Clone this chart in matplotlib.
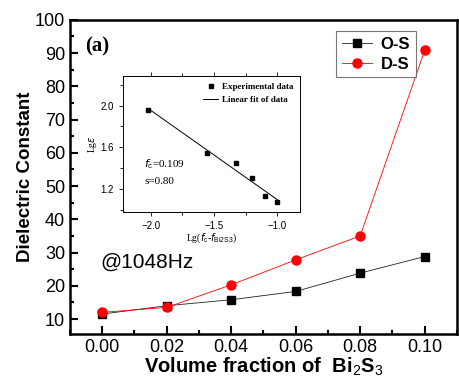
import numpy as np
import matplotlib
matplotlib.use("Agg")
import matplotlib.pyplot as plt
from matplotlib.ticker import MultipleLocator

# volume fraction of Bi2S3 and dielectric constant at 1048 Hz
frac = [0.00, 0.02, 0.04, 0.06, 0.08, 0.10]
eps_os = [11.5, 14.0, 15.8, 18.3, 23.8, 28.8]
eps_ds = [12.0, 13.5, 20.3, 27.8, 35.0, 90.8]

# percolation fit data for the inset
lg_df = [-2.02, -1.56, -1.33, -1.20, -1.10, -1.00]
lg_eps = [1.96, 1.55, 1.45, 1.31, 1.13, 1.08]

plt.rcParams["font.family"] = ["Liberation Sans", "DejaVu Sans"]
plt.rcParams["mathtext.fontset"] = "custom"
plt.rcParams["mathtext.rm"] = "Liberation Sans"
plt.rcParams["mathtext.bf"] = "Liberation Sans:bold"

fig = plt.figure(figsize=(4.59, 3.85), dpi=100)
ax = fig.add_axes([0.1525, 0.1325, 0.843, 0.816])

ax.plot(frac, eps_os, "-", color="#222222", lw=0.6, marker="s", ms=5.5,
        mfc="black", mec="black", label="O-S")
ax.plot(frac, eps_ds, "-", color="red", lw=0.6, marker="o", ms=6.5, label="D-S")

ax.set_xlim(-0.01, 0.11)
ax.set_ylim(5.5, 100)
ax.xaxis.set_major_locator(MultipleLocator(0.02))
ax.xaxis.set_minor_locator(MultipleLocator(0.01))
ax.yaxis.set_major_locator(MultipleLocator(10))
ax.yaxis.set_minor_locator(MultipleLocator(5))
ax.set_yticks(np.arange(10, 101, 10))
ax.xaxis.set_major_formatter(plt.FormatStrFormatter("%.2f"))
ax.tick_params(which="both", direction="in", labelsize=13, width=1.5)
ax.tick_params(which="major", length=6)
ax.tick_params(which="minor", length=3)
for s in ax.spines.values():
    s.set_linewidth(1.8)

ax.set_xlabel("Volume fraction of  Bi$_2$S$_3$", fontsize=14.5, fontweight="bold", labelpad=0)
ax.set_ylabel("Dielectric Constant", fontsize=13.5, fontweight="bold", labelpad=0.5)

leg = ax.legend(loc="upper right", bbox_to_anchor=(0.894, 0.965), borderaxespad=0,
                fancybox=False, edgecolor="#555555", handlelength=1.8,
                borderpad=0.35, labelspacing=0.3, handletextpad=0.5,
                prop={"weight": "bold", "size": 12})
leg.get_frame().set_linewidth(0.8)

ax.text(0.039, 0.915, "(a)", transform=ax.transAxes, fontsize=15, fontweight="bold",
        family="Liberation Serif", va="center")
ax.text(0.078, 0.21, "@1048Hz", transform=ax.transAxes, fontsize=15)

# inset: lg(eps) vs lg(fc - f)
ins = fig.add_axes([0.268, 0.449, 0.386, 0.353])
slope, icpt = np.polyfit(lg_df, lg_eps, 1)
xf = np.array([min(lg_df), max(lg_df)])
ins.plot(lg_df, lg_eps, "s", color="black", ms=2.5, label="Experimental data")
ins.plot(xf, slope * xf + icpt, "-", color="black", lw=0.7, label="Linear fit of data")
ins.set_xlim(-2.22, -0.82)
ins.set_ylim(0.98, 2.28)
ins.xaxis.set_major_locator(MultipleLocator(0.5))
ins.xaxis.set_minor_locator(MultipleLocator(0.25))
ins.yaxis.set_major_locator(MultipleLocator(0.4))
ins.yaxis.set_minor_locator(MultipleLocator(0.2))
ins.set_yticks([1.2, 1.6, 2.0])
ins.tick_params(which="both", direction="out", labelsize=7, width=0.6, top=True)
ins.tick_params(which="major", length=3)
ins.tick_params(which="minor", length=2)
for s in ins.spines.values():
    s.set_linewidth(0.7)
ins.set_xlabel(r"Lg($f_{\rm c}$-$f_{\rm Bi2S3}$)", fontsize=7, family="Liberation Serif", labelpad=0)
ins.set_ylabel(r"Lg$\varepsilon$", fontsize=7, family="Liberation Serif", labelpad=1)
ins.text(0.12, 0.33, r"$f_{\rm c}$=0.109", transform=ins.transAxes, fontsize=8,
         family="Liberation Serif")
ins.text(0.12, 0.21, "s=0.80", transform=ins.transAxes, fontsize=8,
         family="Liberation Serif")
ins.legend(loc="upper right", frameon=False, handlelength=1.6,
           prop={"family": "Liberation Serif", "size": 6.5, "weight": "bold"},
           borderaxespad=0.3, handletextpad=0.5)

fig.savefig("out.png", dpi=100)
